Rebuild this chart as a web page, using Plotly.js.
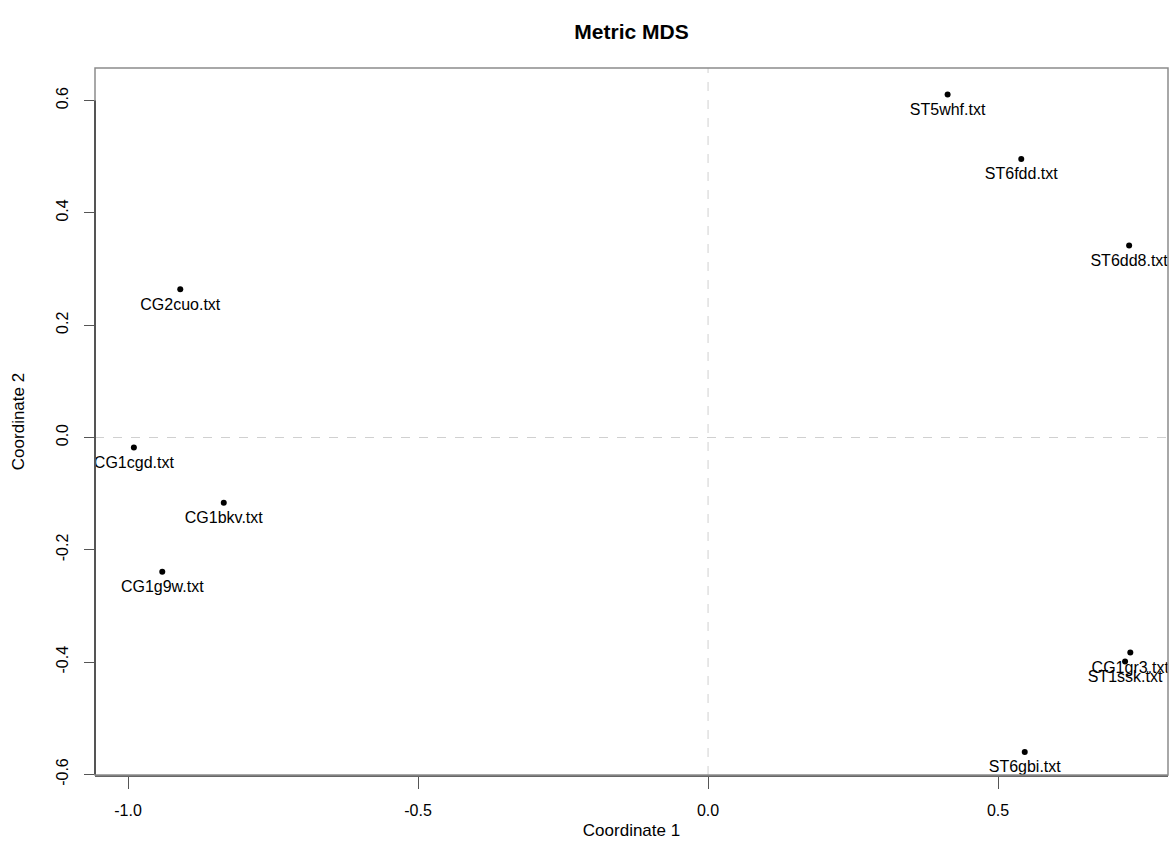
<!DOCTYPE html>
<html>
<head>
<meta charset="utf-8">
<script src="https://cdn.plot.ly/plotly-3.0.1.min.js"></script>
<style>
  html, body { margin: 0; padding: 0; background: #fff; }
  #plot { width: 1170px; height: 859px; }
</style>
</head>
<body>
<div id="plot"></div>
<script>
// Sample labels and their two metric MDS coordinates
const sampleNames = ["ST5whf.txt", "ST6fdd.txt", "ST6dd8.txt", "CG2cuo.txt", "CG1cgd.txt",
                     "CG1bkv.txt", "CG1g9w.txt", "CG1gr3.txt", "ST1ssk.txt", "ST6gbi.txt"];
const coord1 = [0.413, 0.540, 0.726, -0.910, -0.990, -0.835, -0.941, 0.728, 0.719, 0.546];
const coord2 = [0.611, 0.496, 0.342, 0.264, -0.018, -0.116, -0.239, -0.383, -0.399, -0.560];

// Axis ticks
const xTicks = [-1.0, -0.5, 0.0, 0.5];
const xTickText = ["-1.0", "-0.5", "0.0", "0.5"];
const yTicks = [-0.6, -0.4, -0.2, 0.0, 0.2, 0.4, 0.6];
const yTickText = ["-0.6", "-0.4", "-0.2", "0.0", "0.2", "0.4", "0.6"];

const FONT = "Liberation Sans, Arial, Helvetica, sans-serif";

// the points themselves
const points = {
  type: "scatter",
  mode: "markers",
  x: coord1,
  y: coord2,
  marker: { color: "#000", size: 6 },
  cliponaxis: true,
  hoverinfo: "skip"
};

// labels below each point (an invisible, wider marker pushes the text a bit further down)
const labels = {
  type: "scatter",
  mode: "markers+text",
  x: coord1,
  y: coord2,
  text: sampleNames,
  textposition: "bottom center",
  textfont: { family: FONT, size: 16, color: "#000" },
  marker: { color: "rgba(0,0,0,0)", size: 12 },
  cliponaxis: true,
  hoverinfo: "text"
};

const layout = {
  width: 1170,
  height: 859,
  margin: { l: 95, r: 2, t: 68, b: 84 },
  paper_bgcolor: "#fff",
  plot_bgcolor: "#fff",
  showlegend: false,
  font: { family: FONT, size: 16, color: "#000" },
  title: {
    text: "<b>Metric MDS</b>",
    font: { family: FONT, size: 21, color: "#000" },
    x: 0.5, xref: "paper", xanchor: "center",
    y: 1 - 32 / 859, yref: "container", yanchor: "middle"
  },
  xaxis: {
    range: [-1.057, 0.793],
    tickmode: "array",
    tickvals: xTicks,
    ticktext: xTickText,
    ticks: "outside",
    ticklen: 12,
    tickwidth: 1,
    tickcolor: "#555",
    ticklabelstandoff: 8,
    tickfont: { family: FONT, size: 16, color: "#000" },
    showgrid: false,
    zeroline: false,
    showline: true,
    linecolor: "#666",
    linewidth: 1.5,
    mirror: false,
    title: { text: "Coordinate 1", font: { family: FONT, size: 17, color: "#000" }, standoff: 6 }
  },
  yaxis: {
    range: [-0.601, 0.658],
    tickmode: "array",
    tickvals: yTicks,
    ticktext: yTickText,
    tickangle: -90,
    ticks: "outside",
    ticklen: 10,
    tickwidth: 1,
    tickcolor: "#555",
    ticklabelstandoff: 10,
    tickfont: { family: FONT, size: 16, color: "#000" },
    showgrid: false,
    zeroline: false,
    showline: false,
    title: { text: "Coordinate 2", font: { family: FONT, size: 17, color: "#000" }, standoff: 24 }
  },
  shapes: [
    // dashed reference lines through the origin
    { type: "line", xref: "x", yref: "paper", x0: 0, x1: 0, y0: 0, y1: 1,
      line: { color: "#d0d0d0", width: 1, dash: "dash" }, layer: "below" },
    { type: "line", xref: "paper", yref: "y", x0: 0, x1: 1, y0: 0, y1: 0,
      line: { color: "#d0d0d0", width: 1, dash: "dash" }, layer: "below" },
    // plot frame
    { type: "rect", xref: "paper", yref: "paper", x0: 0, x1: 1, y0: 0, y1: 1,
      line: { color: "#8c8c8c", width: 1.5 }, layer: "above" },
    // left axis line spanning the tick range
    { type: "line", xref: "paper", yref: "y", x0: 0, x1: 0, y0: yTicks[0], y1: yTicks[yTicks.length - 1],
      line: { color: "#555", width: 2 }, layer: "above" }
  ]
};

Plotly.newPlot("plot", [points, labels], layout, { displayModeBar: false, staticPlot: true });
</script>
</body>
</html>
